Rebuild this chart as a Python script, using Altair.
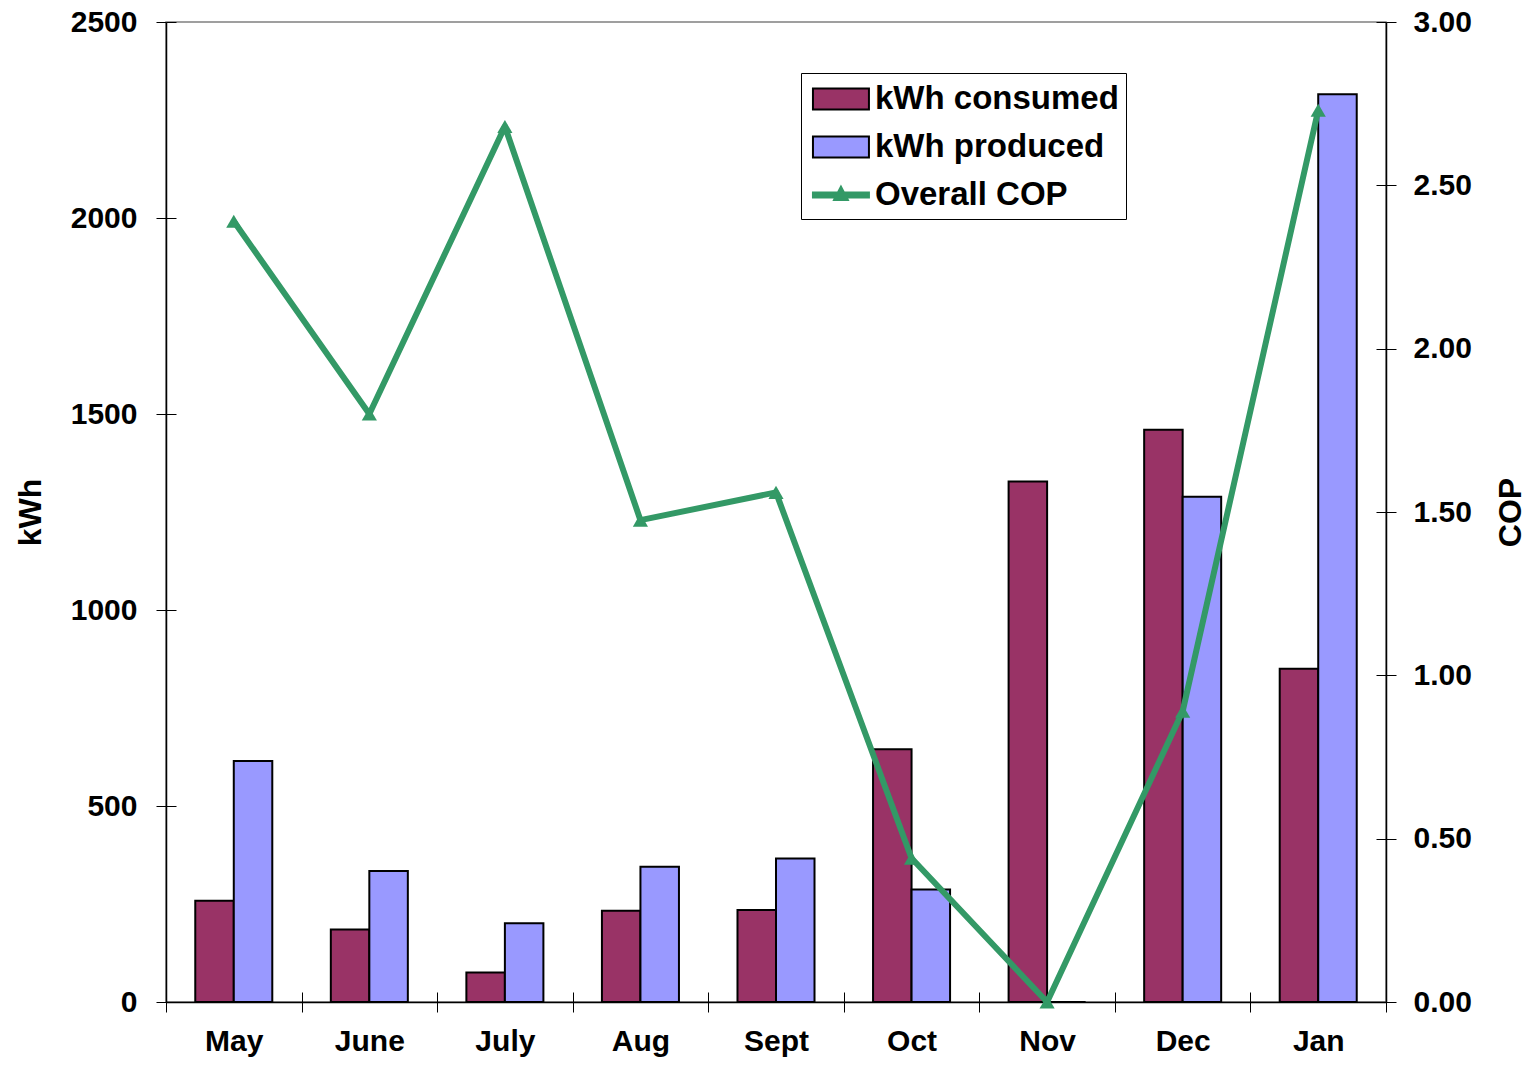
import altair as alt
import pandas as pd

months = ["May", "June", "July", "Aug", "Sept", "Oct", "Nov", "Dec", "Jan"]
consumed = [258, 185, 75, 233, 235, 645, 1328, 1460, 850]
produced = [615, 334, 201, 345, 366, 287, 0, 1289, 2316]
cop = [2.39, 1.80, 2.68, 1.475, 1.56, 0.44, 0.0, 0.89, 2.73]

series_names = ["kWh consumed", "kWh produced", "Overall COP"]
fill_colors = ["#993366", "#9999FF", "#339966"]
stroke_colors = ["#000000", "#000000", "#339966"]
kwh_ticks = [0, 500, 1000, 1500, 2000, 2500]
cop_ticks = [0, 0.5, 1.0, 1.5, 2.0, 2.5, 3.0]

RECT = "M-0.78,-0.58H2.33V0.58H-0.78Z"
COPSYM = "M-0.78,-0.14H2.33V0.14H-0.78Z M0.39,0.28L0.775,-0.46L1.16,0.28Z"

bars_df = pd.DataFrame({
    "month": months * 2,
    "series": [series_names[0]] * len(months) + [series_names[1]] * len(months),
    "kwh": consumed + produced,
})
cop_df = pd.DataFrame({"month": months, "cop": cop})
legend_df = pd.DataFrame({"series": series_names})

FONT = "Liberation Sans"
GREEN = fill_colors[2]
W, H = 1220, 980

xscale = alt.Scale(domain=months, paddingInner=0, paddingOuter=0)
kwh_scale = alt.Scale(domain=[0, 2500], nice=False, zero=True)
cop_scale = alt.Scale(domain=[0, 3], nice=False, zero=True)
fill_scale = alt.Scale(domain=series_names, range=fill_colors)
stroke_scale = alt.Scale(domain=series_names, range=stroke_colors)
shape_scale = alt.Scale(domain=series_names, range=[RECT, RECT, COPSYM])

leg = alt.Legend(
    title=None, orient="none", legendX=635, legendY=51, fillColor="white",
    strokeColor="black", padding=7, symbolSize=1296, symbolStrokeWidth=2,
    labelFont=FONT, labelFontSize=33, labelFontWeight="bold", labelColor="black",
    labelLimit=500, labelOffset=29, rowPadding=12,
)

bars = alt.Chart(bars_df).mark_bar(strokeWidth=2).encode(
    x=alt.X("month:N", sort=months, scale=xscale, title=None,
            axis=alt.Axis(orient="bottom", labelAngle=0, labelPadding=14, tickSize=10,
                          tickBand="extent", domainColor="black", domainWidth=1.5,
                          tickColor="black", tickWidth=1)),
    xOffset=alt.XOffset("series:N", sort=series_names[:2],
                        scale=alt.Scale(domain=series_names[:2], paddingInner=0, paddingOuter=0.76)),
    y=alt.Y("kwh:Q", scale=kwh_scale,
            axis=alt.Axis(orient="left", values=kwh_ticks, format="d", tickSize=10, labelPadding=19,
                          domainColor="black", domainWidth=1.5, tickColor="black",
                          title="kWh", titleX=-136, titleY=490, titleAngle=270,
                          titleBaseline="middle", titleAlign="center")),
    fill=alt.Fill("series:N", scale=fill_scale, legend=leg),
    stroke=alt.Stroke("series:N", scale=stroke_scale, legend=leg),
)

line = alt.Chart(cop_df).mark_line(strokeWidth=6, strokeJoin="round", color=GREEN).encode(
    x=alt.X("month:N", sort=months, scale=xscale, axis=None),
    y=alt.Y("cop:Q", scale=cop_scale,
            axis=alt.Axis(orient="right", values=cop_ticks, format=".2f", tickSize=10,
                          labelPadding=17, domainColor="black", domainWidth=1.5,
                          tickColor="black", title="COP", titleX=124, titleY=490,
                          titleAngle=270, titleBaseline="middle", titleAlign="center")),
)

points = alt.Chart(cop_df).mark_point(shape="triangle-up", filled=True, size=230, opacity=1,
                                      color=GREEN).encode(
    x=alt.X("month:N", sort=months, scale=xscale, axis=None),
    y=alt.Y("cop:Q", scale=cop_scale, axis=None),
)

inner_left = alt.Chart(bars_df).mark_point(opacity=0).encode(
    x=alt.X("month:N", sort=months, scale=xscale, title=None,
            axis=alt.Axis(orient="bottom", offset=-10, tickSize=10, tickBand="extent",
                          labels=False, domain=False, tickColor="black")),
    y=alt.Y("kwh:Q", scale=kwh_scale, title=None,
            axis=alt.Axis(orient="left", offset=-10, values=kwh_ticks, tickSize=10,
                          labels=False, domain=False, tickColor="black")),
)

inner_right = alt.Chart(cop_df).mark_point(opacity=0).encode(
    x=alt.X("month:N", sort=months, scale=xscale, axis=None),
    y=alt.Y("cop:Q", scale=cop_scale, title=None,
            axis=alt.Axis(orient="right", offset=-10, values=cop_ticks, tickSize=10,
                          labels=False, domain=False, tickColor="black")),
)

legend_layer = alt.Chart(legend_df).mark_point(filled=True, opacity=1).encode(
    shape=alt.Shape("series:N", scale=shape_scale, legend=leg),
    fill=alt.Fill("series:N", scale=fill_scale, legend=leg),
    stroke=alt.Stroke("series:N", scale=stroke_scale, legend=leg),
).transform_filter("false")

chart = alt.layer(bars, line, points, inner_left, inner_right, legend_layer).resolve_scale(
    y="independent"
).resolve_axis(
    x="independent", y="independent"
).properties(
    width=W, height=H,
    autosize=alt.AutoSizeParams(type="none"),
    padding={"left": 158, "top": 14, "right": 141, "bottom": 55},
).configure_axis(
    grid=False, labelFont=FONT, labelFontSize=30, labelFontWeight="bold", labelColor="black",
    titleFont=FONT, titleFontSize=32, titleFontWeight="bold", titleColor="black",
).configure_view(
    stroke="#808080", strokeWidth=1.5,
)

chart.save("out.html", embed_options={"renderer": "svg", "actions": False})
